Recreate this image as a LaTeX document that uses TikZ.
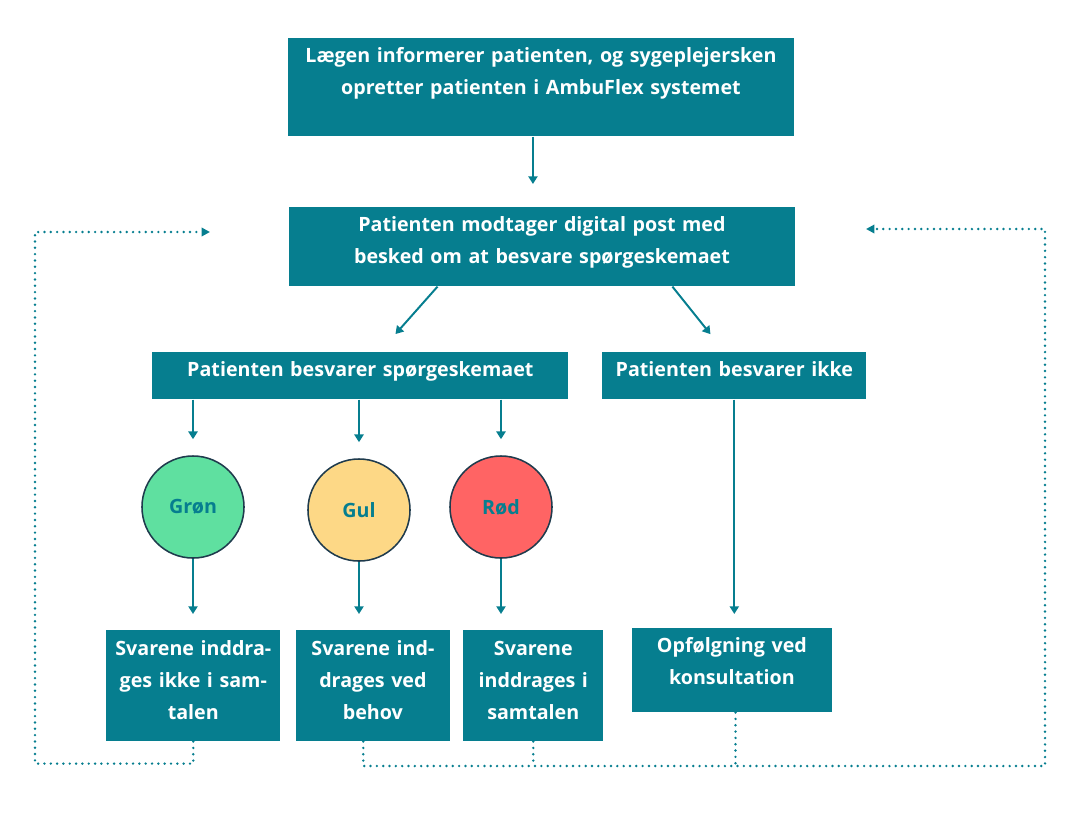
\documentclass[tikz,border=0pt]{standalone}
\usepackage{fontspec}
\setmainfont{Open Sans}
\usetikzlibrary{positioning, arrows.meta, calc}

\definecolor{boxteal}{HTML}{067E8F}
\definecolor{lightgreen}{HTML}{5FE0A0}
\definecolor{lightyellow}{HTML}{FDD886}
\definecolor{lightred}{HTML}{FF6464}
\definecolor{ringdark}{HTML}{1F3B4D}

\tikzset{
	box/.style={fill=boxteal, text=white, font=\bfseries\fontsize{14}{22.76}\selectfont,
		align=center, inner sep=0pt, anchor=north west},
	light/.style={circle, draw=ringdark, line width=1.1pt, minimum size=2.55cm, inner sep=0pt,
		text=boxteal, font=\bfseries\fontsize{14}{16}\selectfont},
	arr/.style={draw=boxteal, line width=1.4pt, -{Triangle[length=5.5pt,width=6.5pt]}},
	dotline/.style={draw=boxteal, line width=1.9pt, line cap=round, dash pattern=on 0pt off 4.5pt},
	loopline/.style={dotline, -{Triangle[length=6pt,width=6pt]}}
}

\begin{document}
\begin{tikzpicture}[x=0.025cm, y=-0.025cm]
	\useasboundingbox (0,0) rectangle (1072,812);
	
	% boxes
	\node[box, minimum width=12.63cm, text width=12.63cm, text height=0.6cm, text depth=1.85cm] (inform) at (288,38)
		{Lægen informerer patienten, og sygeplejersken\\opretter patienten i AmbuFlex systemet};
	\node[box, minimum width=12.63cm, text width=12.63cm, text height=0.6cm, text depth=1.375cm] (post) at (289,207)
		{Patienten modtager digital post med\\besked om at besvare spørgeskemaet};
	\node[box, minimum width=10.4cm, text width=10.4cm, text height=0.6cm, text depth=0.575cm] (svar) at (152,352)
		{Patienten besvarer spørgeskemaet};
	\node[box, minimum width=6.6cm, text width=6.6cm, text height=0.6cm, text depth=0.575cm] (ikke) at (602,352)
		{Patienten besvarer ikke};
	
	% lights
	\node[light, fill=lightgreen] (gron) at (193,507) {Grøn};
	\node[light, fill=lightyellow] (gul) at (359,510) {Gul};
	\node[light, fill=lightred] (rod) at (501,507) {Rød};
	
	% results
	\node[box, minimum width=4.35cm, text width=4.35cm, text height=0.625cm, text depth=2.15cm] (ikkeind) at (106,630)
		{Svarene inddra-\\ges ikke i sam-\\talen};
	\node[box, minimum width=3.83cm, text width=3.83cm, text height=0.625cm, text depth=2.15cm] (behov) at (296,630)
		{Svarene ind-\\drages ved\\behov};
	\node[box, minimum width=3.5cm, text width=3.5cm, text height=0.625cm, text depth=2.15cm] (samtale) at (463,630)
		{Svarene\\inddrages i\\samtalen};
	\node[box, minimum width=4.98cm, text width=4.98cm, text height=0.6cm, text depth=1.5cm] (konsult) at (632,628)
		{Opfølgning ved\\konsultation};
	
	\coordinate (backL) at (210,232);
	\coordinate (backR) at (866,229);
	\coordinate (rail) at (0,766);
	
	% arrows
	\draw[arr, shorten >=0.575cm] ([xshift=-0.2cm]inform.south) -- ([xshift=-0.2cm]inform.south |- post.north);
	\draw[arr, shorten >=0.6cm] ([xshift=-2.61cm]post.south) -- ([xshift=0.48cm]svar.north);
	\draw[arr, shorten >=0.57cm] ([xshift=3.26cm]post.south) -- ([xshift=-0.24cm]ikke.north);
	\draw[arr, shorten >=0.4cm] (svar.south -| gron) -- (gron);
	\draw[arr, shorten >=0.4cm] (svar.south -| gul) -- (gul);
	\draw[arr, shorten >=0.4cm] (svar.south -| rod) -- (rod);
	\draw[arr, shorten >=0.4cm] (gron) -- (gron |- ikkeind.north);
	\draw[arr, shorten >=0.4cm] (gul) -- (gul |- behov.north);
	\draw[arr, shorten >=0.4cm] (rod) -- (rod |- samtale.north);
	\draw[arr, shorten >=0.35cm] (ikke) -- (ikke |- konsult.north);
	
	% feedback loops
	\draw[loopline] (ikkeind.south) -- ++(0,22) -| (35,232) -- (backL);
	\draw[loopline] ([xshift=-0.24cm]behov.south) |- (1045,766) |- (backR);
	\draw[dotline] (samtale.south) -- (samtale.south |- rail);
	\draw[dotline] ([xshift=0.09cm]konsult.south) -- ([xshift=0.09cm]konsult.south |- rail);
\end{tikzpicture}
\end{document}
